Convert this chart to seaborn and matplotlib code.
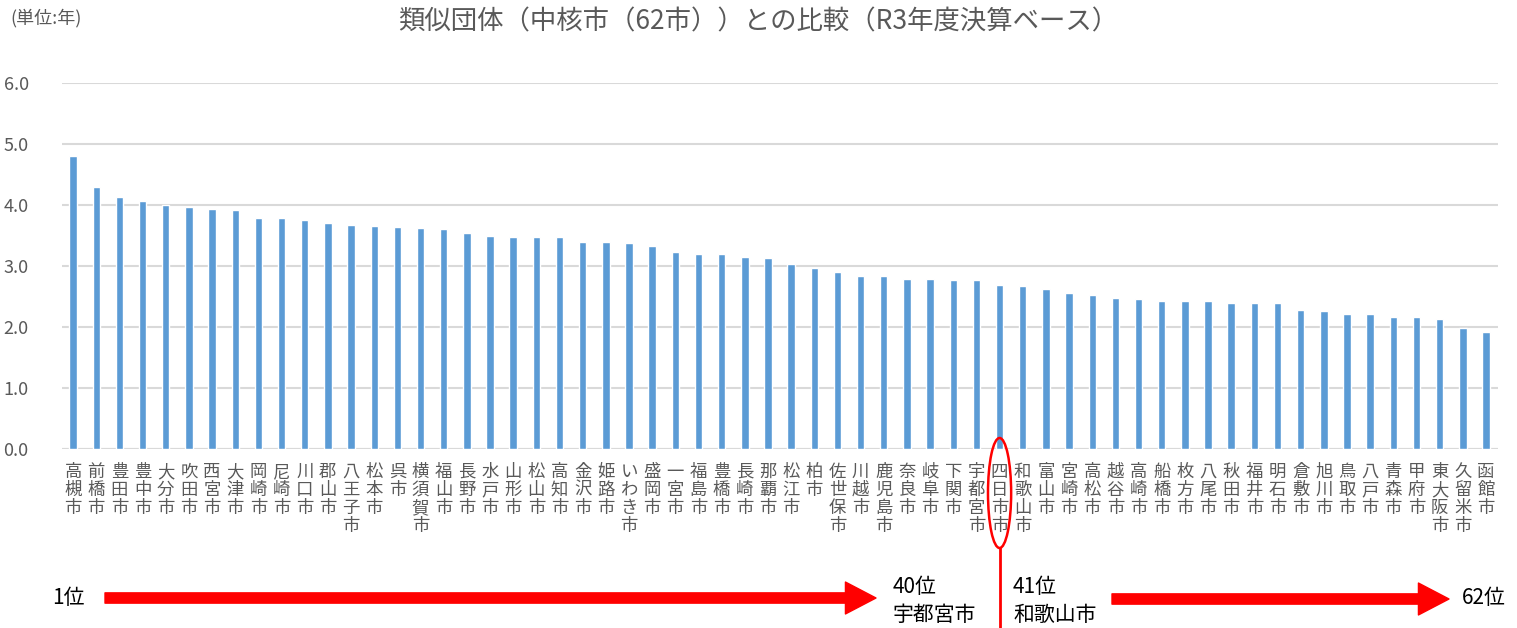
# =========================================================
# 類似団体（中核市）との比較 - BAR CHART
# =========================================================

import numpy as np
import pandas as pd
import matplotlib
matplotlib.use("Agg")
import matplotlib.pyplot as plt
from matplotlib.patches import Ellipse
from matplotlib.transforms import blended_transform_factory
import seaborn as sns

# =========================================================
# DATA
# =========================================================

cities = [
    "高槻市", "前橋市", "豊田市", "豊中市", "大分市", "吹田市", "西宮市", "大津市",
    "岡崎市", "尼崎市", "川口市", "郡山市", "八王子市", "松本市", "呉市", "横須賀市",
    "福山市", "長野市", "水戸市", "山形市", "松山市", "高知市", "金沢市", "姫路市",
    "いわき市", "盛岡市", "一宮市", "福島市", "豊橋市", "長崎市", "那覇市", "松江市",
    "柏市", "佐世保市", "川越市", "鹿児島市", "奈良市", "岐阜市", "下関市", "宇都宮市",
    "四日市市", "和歌山市", "富山市", "宮崎市", "高松市", "越谷市", "高崎市", "船橋市",
    "枚方市", "八尾市", "秋田市", "福井市", "明石市", "倉敷市", "旭川市", "鳥取市",
    "八戸市", "青森市", "甲府市", "東大阪市", "久留米市", "函館市",
]

years = [
    4.80, 4.29, 4.13, 4.06, 4.00, 3.96, 3.94, 3.91,
    3.79, 3.79, 3.75, 3.71, 3.68, 3.65, 3.64, 3.62,
    3.60, 3.54, 3.50, 3.48, 3.48, 3.48, 3.40, 3.40,
    3.38, 3.32, 3.23, 3.19, 3.19, 3.15, 3.13, 3.03,
    2.96, 2.90, 2.83, 2.83, 2.79, 2.79, 2.77, 2.77,
    2.69, 2.67, 2.63, 2.55, 2.53, 2.48, 2.46, 2.42,
    2.42, 2.42, 2.40, 2.40, 2.40, 2.28, 2.26, 2.22,
    2.21, 2.17, 2.17, 2.13, 1.99, 1.92,
]

yticks = [0.0, 1.0, 2.0, 3.0, 4.0, 5.0, 6.0]

title = "類似団体（中核市（62市））との比較（R3年度決算ベース）"
unit_label = "(単位:年)"
highlight_city = "四日市市"

df = pd.DataFrame({"City": cities, "Years": years})

# =========================================================
# STYLE
# =========================================================

sns.set_theme(style="white")
plt.rcParams["font.family"] = ["Noto Sans CJK JP", "DejaVu Sans"]

BAR_COLOR = "#5B9BD5"
GRID_COLOR = "#D9D9D9"
TEXT_GRAY = "#595959"

# =========================================================
# PLOT
# =========================================================

fig = plt.figure(figsize=(15.17, 6.28), dpi=100)
ax = fig.add_axes([62 / 1517, 1 - 449 / 628, (1498 - 62) / 1517, (449 - 83) / 628])

sns.barplot(
    data=df,
    x="City",
    y="Years",
    color=BAR_COLOR,
    saturation=1,
    width=0.32,
    ax=ax,
    zorder=3,
)

ax.set_xlim(-0.48, len(cities) - 1 + 0.52)
ax.set_ylim(0, 6)
ax.set_yticks(yticks)
ax.set_yticklabels([f"{v:.1f}" for v in yticks], fontsize=13, color=TEXT_GRAY)
ax.yaxis.grid(True, color=GRID_COLOR, linewidth=1.5, zorder=0)
ax.xaxis.grid(False)
ax.set_axisbelow(True)
ax.axhline(0, color=GRID_COLOR, linewidth=1.5, zorder=1)

ax.set_xticks(range(len(cities)))
ax.set_xticklabels(["\n".join(c) for c in cities], fontsize=12.5,
                   color=TEXT_GRAY, linespacing=1.0, va="top")
ax.tick_params(axis="x", length=0, pad=10)
ax.tick_params(axis="y", length=0, pad=24)
ax.set_xlabel("")
ax.set_ylabel("")
sns.despine(ax=ax, left=True, bottom=True)

# =========================================================
# TITLE / UNIT
# =========================================================

fig.text(0.5, 1 - 22 / 628, title, ha="center", va="center",
         fontsize=19, color=TEXT_GRAY)
fig.text(10 / 1517, 1 - 18 / 628, unit_label, ha="left", va="center",
         fontsize=13, color=TEXT_GRAY)

# =========================================================
# HIGHLIGHT (ellipse + line)
# =========================================================

hi = cities.index(highlight_city)
blend = blended_transform_factory(ax.transData, fig.transFigure)
ell = Ellipse((hi, 1 - 493 / 628), width=1.0, height=110 / 628,
              transform=blend, fill=False, edgecolor="red",
              linewidth=1.8, clip_on=False)
fig.patches.append(ell)
fig.add_artist(plt.Line2D([hi, hi], [1 - 548 / 628, 0], transform=blend,
                          color="red", linewidth=2))

# =========================================================
# RANK ARROWS
# =========================================================

arrow_style = "simple,head_length=1.1,head_width=1.15,tail_width=0.37"

ax.annotate("", xy=(876, 30), xytext=(105, 30), xycoords="figure pixels",
            textcoords="figure pixels",
            arrowprops=dict(arrowstyle=arrow_style, color="red",
                            mutation_scale=20, shrinkA=0, shrinkB=0))
ax.annotate("", xy=(1449, 29), xytext=(1112, 29), xycoords="figure pixels",
            textcoords="figure pixels",
            arrowprops=dict(arrowstyle=arrow_style, color="red",
                            mutation_scale=20, shrinkA=0, shrinkB=0))

fig.text(52 / 1517, 30 / 628, "1位", ha="left", va="center", fontsize=15, color="black")
fig.text(893 / 1517, 41 / 628, "40位", ha="left", va="center", fontsize=15, color="black")
fig.text(893 / 1517, 13 / 628, "宇都宮市", ha="left", va="center", fontsize=15, color="black")
fig.text(1013 / 1517, 41 / 628, "41位", ha="left", va="center", fontsize=15, color="black")
fig.text(1013 / 1517, 13 / 628, "和歌山市", ha="left", va="center", fontsize=15, color="black")
fig.text(1462 / 1517, 30 / 628, "62位", ha="left", va="center", fontsize=15, color="black")

# =========================================================
# SAVE
# =========================================================

fig.savefig("out.png", dpi=100)
